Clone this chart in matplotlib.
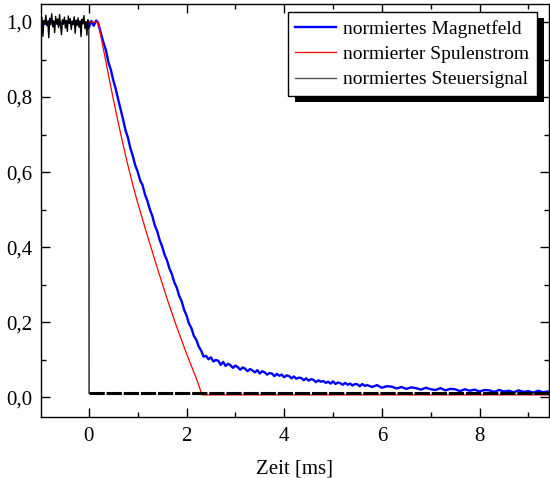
import matplotlib
matplotlib.use('Agg')
import matplotlib.pyplot as plt
from matplotlib.patches import Rectangle
from matplotlib.transforms import IdentityTransform
from matplotlib.ticker import MultipleLocator, FuncFormatter

plt.rcParams['font.family'] = ['Liberation Serif', 'DejaVu Serif']
plt.rcParams['font.size'] = 14

# normiertes Steuersignal (Zeit in ms)
t_steuer = [-1.00, -0.98, -0.96, -0.94, -0.92, -0.90, -0.88, -0.86, -0.84, -0.82,
            -0.80, -0.78, -0.76, -0.74, -0.72, -0.70, -0.68, -0.66, -0.64, -0.62,
            -0.60, -0.58, -0.56, -0.54, -0.52, -0.50, -0.48, -0.46, -0.44, -0.42,
            -0.40, -0.38, -0.36, -0.34, -0.32, -0.30, -0.28, -0.26, -0.24, -0.22,
            -0.20, -0.18, -0.16, -0.14, -0.12, -0.10, -0.08, -0.06, -0.04, -0.02,
            0.00, 0.005, 9.45]
s_steuer = [1.000, 0.985, 1.012, 0.962, 1.004, 0.995, 1.018, 0.990, 1.002, 0.958,
            1.010, 0.993, 1.022, 0.987, 1.003, 0.972, 1.015, 0.996, 1.008, 0.985,
            1.020, 0.992, 0.966, 1.006, 0.994, 1.013, 0.984, 1.004, 0.975, 1.016,
            0.997, 1.009, 0.980, 1.002, 0.993, 1.014, 0.970, 1.005, 0.991, 1.011,
            0.986, 1.003, 0.961, 1.008, 0.995, 1.017, 0.983, 1.001, 0.965, 1.006,
            0.998, 0.010, 0.010]

# normierter Spulenstrom
t_strom = [-1.00, 0.19, 0.30, 0.40, 0.50, 0.60, 0.70, 0.80, 0.90, 1.00, 1.20,
           1.40, 1.60, 1.80, 2.00, 2.20, 2.32, 9.45]
s_strom = [1.000, 1.000, 0.927, 0.860, 0.795, 0.733, 0.674, 0.618, 0.566, 0.518,
           0.430, 0.345, 0.263, 0.187, 0.116, 0.050, 0.006, 0.006]

# normiertes Magnetfeld
t_feld = [-1.00, -0.90, -0.80, -0.70, -0.60, -0.50, -0.40, -0.30, -0.20, -0.10,
          0.00, 0.05, 0.10, 0.15, 0.19,
          0.25, 0.30, 0.35, 0.40, 0.45, 0.50, 0.55, 0.60, 0.65, 0.70,
          0.75, 0.80, 0.85, 0.90, 0.95, 1.00, 1.05, 1.10, 1.15, 1.20,
          1.25, 1.30, 1.35, 1.40, 1.45, 1.50, 1.55, 1.60, 1.65, 1.70,
          1.75, 1.80, 1.85, 1.90, 1.95, 2.00, 2.05, 2.10, 2.15, 2.20,
          2.25, 2.30, 2.35,
          2.40, 2.45, 2.50, 2.55, 2.60, 2.65, 2.70, 2.75, 2.80, 2.85,
          2.90, 2.95, 3.00, 3.05, 3.10, 3.15, 3.20, 3.25, 3.30, 3.35,
          3.40, 3.45, 3.50, 3.55, 3.60, 3.65, 3.70, 3.75, 3.80, 3.85,
          3.90, 3.95, 4.00, 4.05, 4.10, 4.15, 4.20, 4.25, 4.30, 4.35,
          4.40, 4.45, 4.50, 4.55, 4.60, 4.65, 4.70, 4.75, 4.80, 4.85,
          4.90, 4.95, 5.00, 5.05, 5.10, 5.15, 5.20, 5.25, 5.30, 5.35,
          5.40, 5.45, 5.50, 5.55, 5.60, 5.65, 5.70,
          5.80, 5.90, 6.00, 6.10, 6.20, 6.30, 6.40, 6.50, 6.60, 6.70,
          6.80, 6.90, 7.00, 7.10, 7.20, 7.30, 7.40, 7.50, 7.60, 7.70,
          7.80, 7.90, 8.00, 8.10, 8.20, 8.30, 8.40, 8.50, 8.60, 8.70,
          8.80, 8.90, 9.00, 9.10, 9.20, 9.30, 9.40]
b_feld = [1.000, 0.995, 1.004, 0.998, 0.993, 1.003, 0.997, 1.002, 0.994, 1.001,
          0.985, 1.003, 0.990, 1.004, 0.998,
          0.968, 0.945, 0.925, 0.893, 0.873, 0.845, 0.822, 0.794, 0.768, 0.741,
          0.712, 0.692, 0.664, 0.643, 0.618, 0.601, 0.578, 0.565, 0.540, 0.523,
          0.500, 0.483, 0.458, 0.442, 0.419, 0.402, 0.380, 0.365, 0.343, 0.328,
          0.306, 0.292, 0.270, 0.256, 0.233, 0.218, 0.196, 0.184, 0.163, 0.153,
          0.135, 0.124, 0.108,
          0.110, 0.101, 0.106, 0.095, 0.099, 0.097, 0.086, 0.094, 0.083, 0.089,
          0.085, 0.078, 0.084, 0.080, 0.073, 0.079, 0.076, 0.069, 0.075, 0.071,
          0.066, 0.072, 0.063, 0.069, 0.066, 0.060, 0.064, 0.063, 0.056, 0.062,
          0.057, 0.060, 0.053, 0.058, 0.056, 0.050, 0.055, 0.049, 0.052, 0.051,
          0.045, 0.050, 0.044, 0.048, 0.046, 0.040, 0.045, 0.041, 0.043, 0.038,
          0.041, 0.036, 0.042, 0.035, 0.039, 0.037, 0.033, 0.038, 0.033, 0.036,
          0.031, 0.035, 0.034, 0.029, 0.035, 0.030, 0.032,
          0.027, 0.032, 0.025, 0.029, 0.028, 0.023, 0.027, 0.022, 0.026, 0.024,
          0.020, 0.025, 0.021, 0.019, 0.024, 0.018, 0.022, 0.021, 0.016, 0.021,
          0.017, 0.020, 0.015, 0.019, 0.018, 0.014, 0.019, 0.015, 0.017, 0.013,
          0.018, 0.014, 0.016, 0.012, 0.017, 0.013, 0.015]

fig = plt.figure(figsize=(5.5, 4.78), dpi=100)
ax = fig.add_axes([0.0745, 0.1276, 0.9235, 0.864])

ax.plot(t_feld, b_feld, color='#0000ff', lw=1.7, label='normiertes Magnetfeld')
ax.plot(t_strom, s_strom, color='#ff0000', lw=0.9, label='normierter Spulenstrom')
ax.plot(t_steuer[:51], s_steuer[:51], color='black', lw=1.0)
ax.plot(t_steuer[50:52], s_steuer[50:52], color='black', lw=0.9)
ax.plot(t_steuer[51:], s_steuer[51:], color='black', lw=2.2, dashes=(5, 0.6))
ax.plot([], [], color='#555555', lw=1.0, label='normiertes Steuersignal')

ax.set_xlim(-0.98, 9.42)
ax.set_ylim(-0.053, 1.048)
ax.xaxis.set_major_locator(MultipleLocator(2))
ax.xaxis.set_minor_locator(MultipleLocator(1))
ax.yaxis.set_major_locator(MultipleLocator(0.2))
ax.yaxis.set_minor_locator(MultipleLocator(0.1))
ax.yaxis.set_major_formatter(FuncFormatter(lambda v, p: ('%.1f' % v).replace('.', ',')))
ax.tick_params(which='both', direction='in', top=True, right=True, width=1.0, labelsize=15)
ax.tick_params(which='major', length=6.5)
ax.tick_params(which='minor', length=3.5)
ax.tick_params(axis='y', pad=6)
ax.tick_params(axis='x', pad=7)
for s in ax.spines.values():
    s.set_linewidth(1.0)

ax.set_xlabel('Zeit [ms]', fontsize=15, labelpad=10)

leg = ax.legend(loc='upper right', bbox_to_anchor=(537 / 550, 1 - 12 / 478),
                bbox_transform=fig.transFigure, borderaxespad=0, fancybox=False,
                edgecolor='black', framealpha=1, fontsize=14, handlelength=2.1,
                handletextpad=0.35, borderpad=0.4, labelspacing=0.4)
leg.get_frame().set_linewidth(1.0)
leg.set_zorder(6)

fig.canvas.draw()
bb = leg.get_window_extent()
shadow = Rectangle((bb.x0 + 7, bb.y0 - 6), bb.width, bb.height, transform=IdentityTransform(),
                   facecolor='black', edgecolor='none', zorder=5.5, clip_on=False)
ax.add_artist(shadow)

fig.savefig('out.png', dpi=100)
